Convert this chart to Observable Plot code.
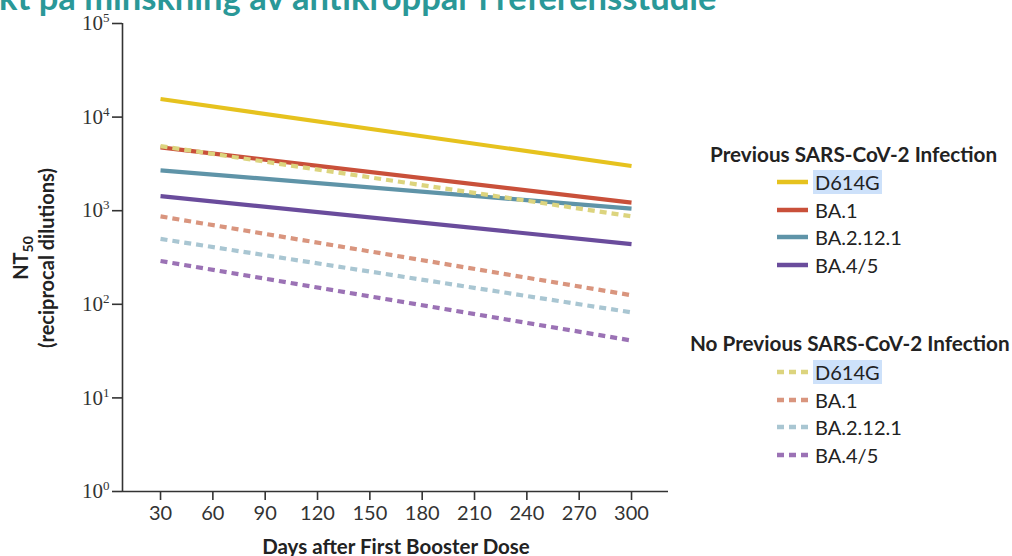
<!DOCTYPE html>
<html>
<head>
<meta charset="utf-8">
<script src="https://cdn.jsdelivr.net/npm/d3@7"></script>
<script src="https://cdn.jsdelivr.net/npm/@observablehq/plot@0.6"></script>
<style>
  html, body { margin: 0; padding: 0; background: #fff; }
  #wrap { position: relative; width: 1012px; height: 556px; overflow: hidden; font-family: Lato, "Open Sans", sans-serif; }
  #title { position: absolute; left: -1px; top: -20px; font: bold 34.5px Lato, sans-serif; line-height: 34.5px; color: #2a9898; white-space: nowrap; }
  .ylab { position: absolute; font: bold 20px Lato, sans-serif; color: #222; white-space: nowrap; transform: translate(-50%, -50%) rotate(-90deg); }
  #xlab { position: absolute; left: 396px; top: 546px; transform: translate(-50%, -50%); font: bold 20.5px Lato, sans-serif; color: #222; white-space: nowrap; }
  .lg { position: absolute; font-family: Lato, sans-serif; color: #222; }
  .lg-title { position: absolute; font: bold 20.7px Lato, sans-serif; white-space: nowrap; transform: translateY(-50%); }
  .lg-item { position: absolute; display: flex; align-items: center; white-space: nowrap; transform: translateY(-50%); font-size: 20px; }
  .lg-item svg { margin-right: 6px; }
  .hl { background: #cde1fa; padding: 0 2px; margin-left: -2px; }
</style>
</head>
<body>
<div id="wrap">
  <div id="title">kt på minskning av antikroppar i referensstudie</div>
  <div class="ylab" style="left:22px; top:258px;">NT<sub style="font-size:14px;">50</sub></div>
  <div class="ylab" style="left:46px; top:258px;">(reciprocal dilutions)</div>
  <div id="xlab">Days after First Booster Dose</div>
  <div id="legend"></div>
</div>
<script>
// ---- data ----
const days = [30, 300];
const variants = ["D614G", "BA.1", "BA.2.12.1", "BA.4/5"];
const groups = ["Previous SARS-CoV-2 Infection", "No Previous SARS-CoV-2 Infection"];
const prevD614G = [15600, 3000];
const prevBA1 = [4750, 1220];
const prevBA2121 = [2700, 1050];
const prevBA45 = [1430, 440];
const noD614G = [4900, 870];
const noBA1 = [870, 125];
const noBA2121 = [500, 82];
const noBA45 = [290, 41];
const xTicks = [30, 60, 90, 120, 150, 180, 210, 240, 270, 300];
const yTicks = [1, 10, 100, 1000, 10000, 100000];
const solidColors = ["#e6c21e", "#c9503a", "#5f94a8", "#6a4c9c"];
const dashedColors = ["#dcd47e", "#d9957e", "#a9c6d2", "#9b72b5"];

const prevSeries = [prevD614G, prevBA1, prevBA2121, prevBA45];
const noSeries = [noD614G, noBA1, noBA2121, noBA45];

function toRows(seriesList, group, colors) {
  const rows = [];
  seriesList.forEach((vals, i) => {
    vals.forEach((v, j) => rows.push({group, variant: variants[i], key: group + variants[i], day: days[j], value: v, color: colors[i]}));
  });
  return rows;
}
const prevRows = toRows(prevSeries, groups[0], solidColors);
const noRows = toRows(noSeries, groups[1], dashedColors);

const xMin = 8.2, xMax = 321.2;

const chart = Plot.plot({
  width: 1012,
  height: 556,
  marginLeft: 122,
  marginRight: 344,
  marginTop: 23,
  marginBottom: 65,
  style: {background: "transparent", overflow: "visible"},
  x: {domain: [xMin, xMax]},
  y: {type: "log", domain: [1, 100000]},
  marks: [
    Plot.axisX({ticks: xTicks, tickSize: 9, tickPadding: 5, label: null, fontSize: 20, fontFamily: "Lato, sans-serif", color: "#333", strokeWidth: 1.6, tickFormat: d => String(d)}),
    Plot.axisY({ticks: yTicks, tickSize: 10, tickPadding: 3, label: null, fontSize: 21, fontFamily: "Liberation Serif, serif", color: "#333", strokeWidth: 1.6, tickFormat: d => "10^" + Math.round(Math.log10(d))}),
    Plot.ruleX([xMin], {stroke: "#333", strokeWidth: 1.6}),
    Plot.ruleY([1], {stroke: "#333", strokeWidth: 1.6}),
    Plot.line(prevRows, {x: "day", y: "value", z: "key", stroke: "color", strokeWidth: 4.2, strokeLinecap: "butt"}),
    Plot.line(noRows, {x: "day", y: "value", z: "key", stroke: "color", strokeWidth: 4.2, strokeDasharray: "7,5", strokeLinecap: "butt"})
  ]
});
chart.style.position = "absolute";
chart.style.left = "0px";
chart.style.top = "0px";
document.getElementById("wrap").insertBefore(chart, document.getElementById("title"));

// superscript exponents on y tick labels
chart.querySelectorAll("text").forEach(t => {
  const m = /^10\^(\d)$/.exec(t.textContent);
  if (m) {
    t.textContent = "";
    const a = document.createElementNS("http://www.w3.org/2000/svg", "tspan");
    a.textContent = "10";
    const b = document.createElementNS("http://www.w3.org/2000/svg", "tspan");
    b.textContent = m[1];
    b.setAttribute("dy", "-8");
    b.setAttribute("font-size", "13");
    t.appendChild(a);
    t.appendChild(b);
  }
});

// legend
const legend = document.getElementById("legend");
function addGroup(title, titleX, titleY, itemYs, colors, dashed) {
  const t = document.createElement("div");
  t.className = "lg lg-title";
  t.style.left = titleX + "px";
  t.style.top = titleY + "px";
  t.textContent = title;
  legend.appendChild(t);
  variants.forEach((v, i) => {
    const it = document.createElement("div");
    it.className = "lg lg-item";
    it.style.left = "777px";
    it.style.top = itemYs[i] + "px";
    const sw = `<svg width="32" height="8"><line x1="0" x2="31" y1="4" y2="4" stroke="${colors[i]}" stroke-width="4.5" ${dashed ? 'stroke-dasharray="7,5"' : ''}/></svg>`;
    it.innerHTML = sw + (i === 0 ? `<span class="hl">${v}</span>` : `<span>${v}</span>`);
    legend.appendChild(it);
  });
}
addGroup(groups[0], 710, 154, [182, 210, 237, 265], solidColors, false);
addGroup(groups[1], 690, 343, [372, 400, 427, 455], dashedColors, true);
</script>
</body>
</html>
